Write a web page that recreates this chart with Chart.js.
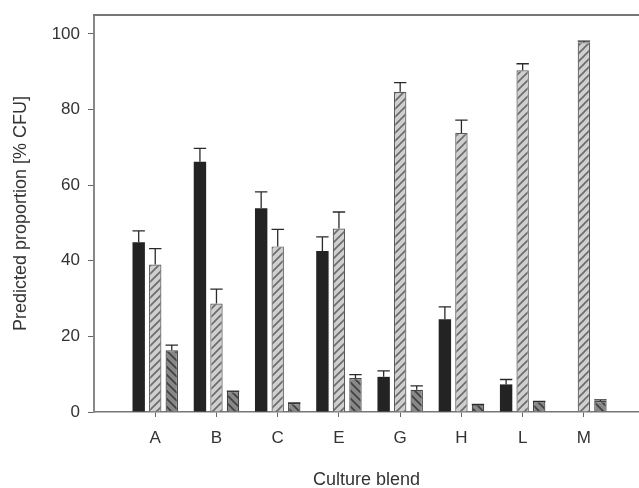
<!DOCTYPE html>
<html>
<head>
<meta charset="utf-8">
<script src="https://cdn.jsdelivr.net/npm/chart.js@4.4.1/dist/chart.umd.min.js"></script>
<style>
  html, body { margin: 0; padding: 0; background: #fff; overflow: hidden; }
  #wrap { width: 639px; height: 488px; }
</style>
</head>
<body>
<div id="wrap"><canvas id="chart"></canvas></div>
<script>
// culture blends on the x axis
const categories = ["A", "B", "C", "E", "G", "H", "L", "M"];

// black bars
const blackVals = [44.9, 66.2, 53.9, 42.6, 9.3, 24.5, 7.3, 0];
const blackErr = [3.0, 3.5, 4.3, 3.7, 1.6, 3.3, 1.3, 0];

// light hatched bars
const lightVals = [39.0, 28.7, 43.8, 48.5, 84.7, 73.8, 90.4, 97.8];
const lightErr = [4.2, 3.8, 4.5, 4.4, 2.4, 3.4, 1.7, 0.3];

// dark hatched bars
const darkVals = [16.3, 5.5, 2.4, 9.0, 5.9, 2.0, 2.8, 2.9];
const darkErr = [1.4, 0, 0, 0.9, 1.0, 0, 0, 0.3];

const yTicks = [0, 20, 40, 60, 80, 100];

// make a striped fill
let hatch = (bg, fg, dir) => {
  let c = document.createElement("canvas");
  c.width = 8;
  c.height = 8;
  let g = c.getContext("2d");
  g.fillStyle = bg;
  g.fillRect(0, 0, 8, 8);
  g.strokeStyle = fg;
  g.lineWidth = 1.6;
  g.beginPath();
  if (dir > 0) {
    g.moveTo(-2, 10); g.lineTo(10, -2);
    g.moveTo(-2, 2); g.lineTo(2, -2);
    g.moveTo(6, 10); g.lineTo(10, 6);
  } else {
    g.moveTo(-2, -2); g.lineTo(10, 10);
    g.moveTo(-2, 6); g.lineTo(2, 10);
    g.moveTo(6, -2); g.lineTo(10, 2);
  }
  g.stroke();
  return g.createPattern(c, "repeat");
};

let toPoints = (vals) => vals.map((v, i) => ({ x: i + 1, y: v }));

//upper error bars plus the top frame line
const errorBars = {
  id: "errorBars",
  afterDatasetsDraw(chart) {
    let ctx = chart.ctx;
    let yScale = chart.scales.y;
    ctx.save();
    ctx.strokeStyle = "#2a2a2a";
    ctx.lineWidth = 1.3;
    chart.data.datasets.forEach((ds, di) => {
      let meta = chart.getDatasetMeta(di);
      meta.data.forEach((bar, i) => {
        let v = ds.data[i].y;
        if (!v) return;
        let top = yScale.getPixelForValue(v + ds.errUp[i]);
        let half = bar.width / 2;
        ctx.beginPath();
        ctx.moveTo(bar.x, bar.y);
        ctx.lineTo(bar.x, top);
        ctx.moveTo(bar.x - half, top);
        ctx.lineTo(bar.x + half, top);
        ctx.stroke();
      });
    });
    let area = chart.chartArea;
    ctx.strokeStyle = "#777";
    ctx.lineWidth = 2;
    ctx.beginPath();
    ctx.moveTo(area.left - 1, area.top);
    ctx.lineTo(area.right, area.top);
    ctx.stroke();
    ctx.restore();
  },
};

let myChart = new Chart(document.getElementById("chart"), {
  type: "bar",
  data: {
    datasets: [
      {
        data: toPoints(blackVals),
        errUp: blackErr,
        backgroundColor: "#232323",
        borderWidth: 0,
      },
      {
        data: toPoints(lightVals),
        errUp: lightErr,
        backgroundColor: hatch("#cfcfcf", "#6a6a6a", 1),
        borderColor: "#5a5a5a",
        borderWidth: 1.2,
      },
      {
        data: toPoints(darkVals),
        errUp: darkErr,
        backgroundColor: hatch("#888888", "#404040", -1),
        borderColor: "#444",
        borderWidth: 1.2,
      },
    ],
  },
  plugins: [errorBars],
  options: {
    responsive: true,
    maintainAspectRatio: false,
    animation: false,
    layout: { padding: { top: 15, right: 0, bottom: 0, left: 0 } },
    datasets: {
      bar: { categoryPercentage: 0.81, barPercentage: 0.75 },
    },
    plugins: {
      legend: { display: false },
      tooltip: { enabled: false },
    },
    scales: {
      x: {
        type: "linear",
        min: 0,
        max: 8.9,
        offset: false,
        afterBuildTicks: (scale) => {
          scale.ticks = categories.map((c, i) => ({ value: i + 1 }));
        },
        afterFit: (scale) => {
          scale.height = 76;
          scale.paddingLeft = 0;
          scale.paddingRight = 0;
        },
        ticks: {
          stepSize: 1,
          autoSkip: false,
          maxRotation: 0,
          padding: 11,
          color: "#333",
          font: { family: "Liberation Sans, Arial", size: 17 },
          callback: (v) => categories[v - 1] || "",
        },
        grid: { offset: false, drawOnChartArea: false, tickLength: 5, color: "#666" },
        border: { color: "#777", width: 1.5 },
        title: {
          display: true,
          text: "Culture blend",
          color: "#333",
          padding: { top: 0, bottom: -1 },
          font: { family: "Liberation Sans, Arial", size: 18, lineHeight: 1 },
        },
      },
      y: {
        min: 0,
        max: 105,
        afterBuildTicks: (scale) => {
          scale.ticks = yTicks.map((v) => ({ value: v }));
        },
        afterFit: (scale) => {
          scale.width = 94;
          scale.paddingTop = 0;
          scale.paddingBottom = 0;
        },
        ticks: {
          padding: 8,
          color: "#333",
          font: { family: "Liberation Sans, Arial", size: 17 },
        },
        grid: { drawOnChartArea: false, tickLength: 6, color: "#666" },
        border: { color: "#888", width: 2 },
        title: {
          display: true,
          text: "Predicted proportion [% CFU]",
          color: "#333",
          padding: { top: 10, bottom: 0 },
          font: { family: "Liberation Sans, Arial", size: 18 },
        },
      },
    },
  },
});
</script>
</body>
</html>
